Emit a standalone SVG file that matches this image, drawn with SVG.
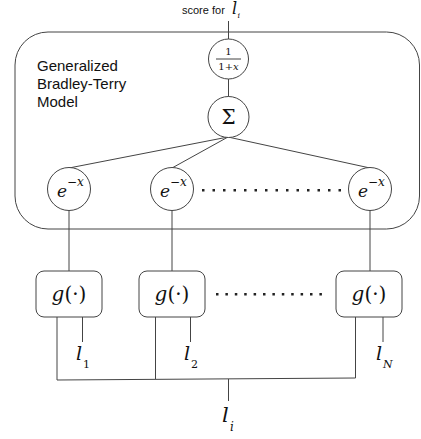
<svg xmlns="http://www.w3.org/2000/svg" width="421" height="439" viewBox="0 0 421 439">
<style>
.ln{fill:none;stroke:#444;stroke-width:1}
.nd{fill:#fff;stroke:#444;stroke-width:1}
.sans{font-family:"Liberation Sans",Arial,sans-serif;fill:#111}
.m{font-family:"DejaVu Serif","Liberation Serif",serif;font-style:italic;fill:#111}
.mr{font-family:"DejaVu Serif","Liberation Serif",serif;fill:#111}
.dot{fill:#222}
</style>
<rect width="421" height="439" fill="#fff"/>
<g id="model-box">
<rect x="15" y="32" width="404.5" height="197" rx="33" ry="33" class="ln"/>
<text class="sans" font-size="15" x="37" y="71">Generalized</text>
<text class="sans" font-size="15" x="37" y="89">Bradley-Terry</text>
<text class="sans" font-size="15" x="37" y="107">Model</text>
</g>
<g id="connectors" class="ln">
<line x1="228.5" y1="21" x2="228.5" y2="39"/>
<line x1="228.5" y1="79" x2="228.5" y2="97"/>
<line x1="228" y1="137" x2="69" y2="168"/>
<line x1="228" y1="137" x2="172" y2="168"/>
<line x1="228" y1="137" x2="370" y2="168"/>
<line x1="69" y1="210" x2="69" y2="271"/>
<line x1="172" y1="210" x2="172" y2="271"/>
<line x1="370" y1="210" x2="370" y2="271"/>
<line x1="82.5" y1="317" x2="82.5" y2="342"/>
<line x1="190.5" y1="317" x2="190.5" y2="342"/>
<line x1="383" y1="317" x2="383" y2="342"/>
<polyline points="57,317 57,380 355.5,378 355.5,317"/>
<line x1="155.5" y1="317" x2="155.5" y2="379"/>
<line x1="228.5" y1="379" x2="228.5" y2="401"/>
</g>
<g id="score-label">
<text class="sans" font-size="11" x="182" y="14">score for</text>
<text class="m" font-size="16" x="232" y="14">l</text>
<text class="m" font-size="8" x="237.5" y="18">i</text>
</g>
<g id="sigmoid">
<circle cx="228.5" cy="59" r="20" class="nd"/>
<text class="mr" font-size="10" x="228.5" y="55" text-anchor="middle">1</text>
<line x1="216" y1="59" x2="241" y2="59" stroke="#111" stroke-width="0.8"/>
<text class="mr" font-size="10" x="228.5" y="70" text-anchor="middle">1+<tspan font-style="italic">x</tspan></text>
</g>
<g id="sum">
<circle cx="228.5" cy="117" r="20.5" class="nd"/>
<text class="mr" font-size="20" x="228.5" y="124" text-anchor="middle">Σ</text>
</g>
<g id="exp1">
<circle cx="69" cy="189" r="21.5" class="nd"/>
<text class="m" font-size="17" x="57" y="197">e</text>
<text class="m" font-size="12" x="67" y="186">−x</text>
</g>
<g id="exp2">
<circle cx="172" cy="189" r="21.5" class="nd"/>
<text class="m" font-size="17" x="160" y="197">e</text>
<text class="m" font-size="12" x="170" y="186">−x</text>
</g>
<g id="exp3">
<circle cx="370" cy="189" r="21.5" class="nd"/>
<text class="m" font-size="17" x="358" y="197">e</text>
<text class="m" font-size="12" x="368" y="186">−x</text>
</g>
<g id="dots-exp" class="dot">
<rect x="202" y="189" width="2.5" height="2.5"/><rect x="212.5" y="189" width="2.5" height="2.5"/><rect x="223" y="189" width="2.5" height="2.5"/><rect x="233.5" y="189" width="2.5" height="2.5"/><rect x="244" y="189" width="2.5" height="2.5"/><rect x="254.5" y="189" width="2.5" height="2.5"/><rect x="265" y="189" width="2.5" height="2.5"/><rect x="275.5" y="189" width="2.5" height="2.5"/><rect x="286" y="189" width="2.5" height="2.5"/><rect x="296.5" y="189" width="2.5" height="2.5"/><rect x="307" y="189" width="2.5" height="2.5"/><rect x="317.5" y="189" width="2.5" height="2.5"/><rect x="328" y="189" width="2.5" height="2.5"/><rect x="338.5" y="189" width="2.5" height="2.5"/>
</g>
<g id="g1">
<rect x="36" y="271" width="66" height="46" rx="8" ry="8" class="nd"/>
<text class="m" font-size="20" x="69" y="301" text-anchor="middle">g<tspan font-style="normal">(·)</tspan></text>
</g>
<g id="g2">
<rect x="139" y="271" width="66" height="46" rx="8" ry="8" class="nd"/>
<text class="m" font-size="20" x="172" y="301" text-anchor="middle">g<tspan font-style="normal">(·)</tspan></text>
</g>
<g id="g3">
<rect x="336" y="271" width="66" height="46" rx="8" ry="8" class="nd"/>
<text class="m" font-size="20" x="369" y="301" text-anchor="middle">g<tspan font-style="normal">(·)</tspan></text>
</g>
<g id="dots-g" class="dot">
<rect x="216" y="293" width="2.5" height="2.5"/><rect x="225.4" y="293" width="2.5" height="2.5"/><rect x="234.8" y="293" width="2.5" height="2.5"/><rect x="244.2" y="293" width="2.5" height="2.5"/><rect x="253.6" y="293" width="2.5" height="2.5"/><rect x="263" y="293" width="2.5" height="2.5"/><rect x="272.4" y="293" width="2.5" height="2.5"/><rect x="281.8" y="293" width="2.5" height="2.5"/><rect x="291.2" y="293" width="2.5" height="2.5"/><rect x="300.6" y="293" width="2.5" height="2.5"/><rect x="310" y="293" width="2.5" height="2.5"/><rect x="319.4" y="293" width="2.5" height="2.5"/>
</g>
<g id="l1">
<text class="m" font-size="19" x="76" y="360">l</text>
<text class="mr" font-size="11" x="83" y="368">1</text>
</g>
<g id="l2">
<text class="m" font-size="19" x="184" y="360">l</text>
<text class="mr" font-size="11" x="191" y="368">2</text>
</g>
<g id="lN">
<text class="m" font-size="19" x="376" y="360">l</text>
<text class="m" font-size="11" x="383" y="368">N</text>
</g>
<g id="li">
<text class="m" font-size="21" x="222" y="422">l</text>
<text class="m" font-size="12" x="230" y="431">i</text>
</g>
</svg>
